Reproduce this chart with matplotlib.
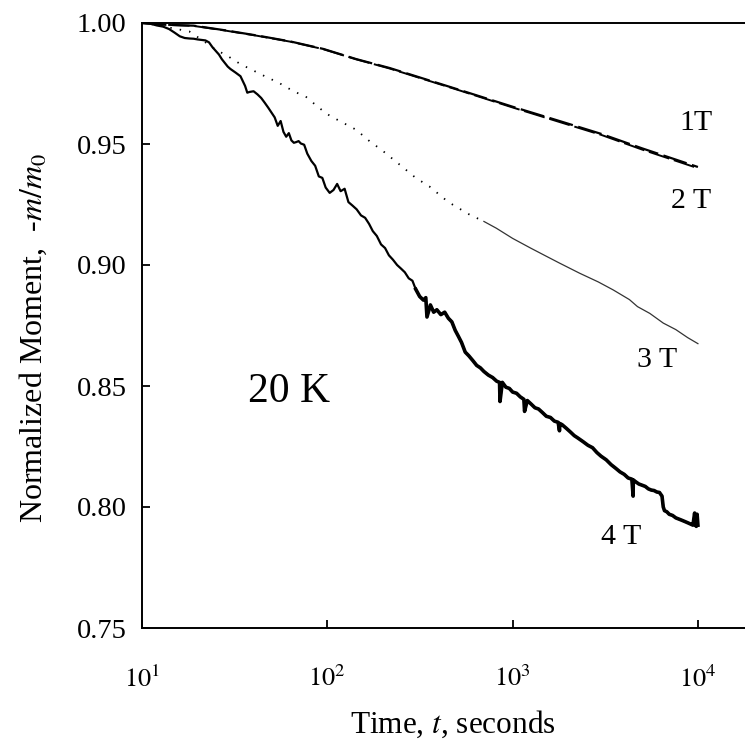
import numpy as np
import matplotlib.pyplot as plt

plt.rcParams['font.family'] = ['Liberation Serif', 'DejaVu Serif']
plt.rcParams['mathtext.fontset'] = 'stix'

# 1 T and 2 T (almost on top of each other)
t1 = [10, 13, 19, 28, 42, 63, 95, 143, 217, 500, 1000, 1790, 3000, 5000, 10000]
m1 = [1.000, 0.9993, 0.9989, 0.997, 0.9948, 0.9924, 0.9893, 0.9851, 0.9814,
      0.9727, 0.9654, 0.9595, 0.9542, 0.9482, 0.9405]
m2 = [1.000, 0.9993, 0.9988, 0.9969, 0.9947, 0.9923, 0.9892, 0.9850, 0.9812,
      0.9725, 0.9651, 0.9591, 0.9538, 0.9477, 0.9400]

# 3 T
t3 = [10, 12, 14.7, 18, 22, 25, 29.2, 34, 39.8, 46, 55, 65, 77, 90, 103, 120,
      143, 170, 196, 250, 300, 355, 450, 580, 700, 817, 1000, 1250, 1530, 1790,
      2300, 2900, 3490, 4270, 4720, 5500, 6500, 7600, 8800, 10000]
m3 = [1.000, 0.9992, 0.9978, 0.9965, 0.992, 0.989, 0.9862, 0.983, 0.9804, 0.978,
      0.9752, 0.972, 0.9694, 0.965, 0.9617, 0.959, 0.9559, 0.951, 0.9476, 0.941,
      0.936, 0.9325, 0.926, 0.921, 0.918, 0.9152, 0.911, 0.907, 0.9035, 0.9008,
      0.8966, 0.893, 0.8897, 0.8857, 0.8828, 0.880, 0.876, 0.8733, 0.870, 0.8675]

# 4 T (noisy)
t4 = [10, 11, 12, 13, 14, 15, 16, 17, 18, 19, 20, 21, 22, 23, 24, 25, 26, 27, 28,
      29, 30, 32, 34, 36, 37, 38, 40, 42, 44, 46, 48, 50, 52, 54, 56, 58, 60, 62,
      64, 66, 68, 70, 72, 75, 78, 82, 86, 90, 94, 98, 103, 108, 113, 118, 124, 130,
      137, 144, 152, 160, 168, 176, 185, 195, 205, 215, 226, 238, 250, 262, 275,
      288, 300, 315, 330, 340, 345, 360, 375, 390, 410, 430, 450, 470, 490, 510,
      530, 555, 580, 610, 640, 670, 700, 740, 780, 820, 850, 855, 880, 920, 960,
      1000, 1050, 1100, 1150, 1160, 1200, 1260, 1320, 1380, 1450, 1520, 1600, 1680,
      1760, 1790, 1800, 1850, 1950, 2050, 2150, 2250, 2400, 2550, 2700, 2850, 3000,
      3200, 3400, 3600, 3800, 4000, 4200, 4400, 4470, 4480, 4600, 4800, 5000, 5200,
      5400, 5600, 5800, 6000, 6200, 6400, 6500, 6600, 6800, 7000, 7300, 7600, 7900,
      8200, 8500, 8800, 9100, 9400, 9600, 9700, 9800, 9900, 10000]
m4 = [1.000, 0.9998, 0.999, 0.9985, 0.9975, 0.996, 0.9945, 0.9938, 0.9936, 0.9935,
      0.9932, 0.993, 0.9928, 0.992, 0.990, 0.9885, 0.987, 0.985, 0.9835, 0.982,
      0.981, 0.9795, 0.978, 0.974, 0.9712, 0.9715, 0.9718, 0.9705, 0.969, 0.967,
      0.965, 0.963, 0.961, 0.9575, 0.9595, 0.955, 0.953, 0.9545, 0.9515, 0.9505,
      0.9508, 0.9512, 0.9502, 0.9497, 0.946, 0.943, 0.941, 0.9366, 0.936, 0.932,
      0.9298, 0.931, 0.9335, 0.9305, 0.9315, 0.926, 0.9245, 0.923, 0.9205, 0.9195,
      0.917, 0.914, 0.912, 0.9085, 0.907, 0.904, 0.9022, 0.900, 0.8985, 0.897,
      0.8945, 0.8935, 0.890, 0.887, 0.8855, 0.8865, 0.8785, 0.8835, 0.8805, 0.8815,
      0.8795, 0.8805, 0.878, 0.8765, 0.873, 0.8705, 0.868, 0.864, 0.8625, 0.8605,
      0.8585, 0.8575, 0.856, 0.8545, 0.8535, 0.852, 0.8515, 0.8436, 0.8515, 0.8495,
      0.849, 0.8475, 0.847, 0.8455, 0.8445, 0.8395, 0.844, 0.8425, 0.841, 0.8405,
      0.839, 0.8375, 0.837, 0.8355, 0.835, 0.8315, 0.8345, 0.834, 0.8325, 0.831,
      0.8295, 0.8285, 0.827, 0.8255, 0.8245, 0.8225, 0.821, 0.8195, 0.8175, 0.816,
      0.8145, 0.8135, 0.812, 0.8115, 0.8045, 0.8112, 0.8105, 0.8095, 0.809, 0.8085,
      0.8075, 0.807, 0.8068, 0.8062, 0.806, 0.8045, 0.800, 0.7985, 0.798, 0.797,
      0.7965, 0.7955, 0.795, 0.7945, 0.794, 0.7935, 0.793, 0.7925, 0.7975, 0.7925,
      0.792, 0.797, 0.7925]

fig = plt.figure(figsize=(7.45, 7.48), dpi=100)
ax = fig.add_axes([142/745, 1-628/748, (745-142)/745, (628-23)/748])

ax.plot(t1, m1, color='black', lw=1.6, dashes=(11, 2.5))
ax.plot(t1, m2, color='black', lw=1.4, dashes=(11, 2.5))

t3a = np.array(t3)
m3a = np.array(m3)
early = t3a <= 800
ax.plot(t3a[early], m3a[early], color='black', lw=1.3, ls=(0, (0.8, 4.5)))
ax.plot(t3a[t3a >= 700], m3a[t3a >= 700], color='#333333', lw=0.9)

# 4 T gets thicker (noisier) at long times
t4a = np.array(t4)
m4a = np.array(m4)
ax.plot(t4a, m4a, color='black', lw=1.6)
late = t4a >= 300
ax.plot(t4a[late], m4a[late], color='black', lw=2.6)

ax.set_xscale('log')
ax.set_xlim(10, 17950)
ax.set_ylim(0.75, 1.0)
ax.set_xticks([10, 100, 1000, 10000])
ax.set_xticklabels([r'$10^{1}$', r'$10^{2}$', r'$10^{3}$', r'$10^{4}$'])
ax.minorticks_off()
ax.set_yticks([0.75, 0.80, 0.85, 0.90, 0.95, 1.00])
ax.set_yticklabels(['0.75', '0.80', '0.85', '0.90', '0.95', '1.00'])
ax.tick_params(direction='in', length=6, width=1.3)
ax.tick_params(axis='x', pad=27, labelsize=19)
ax.tick_params(axis='y', pad=11, labelsize=20.5)
ax.spines['right'].set_visible(False)
for s in ['left', 'bottom', 'top']:
    ax.spines[s].set_linewidth(1.4)

ax.set_xlabel(r'Time, $t$, seconds', fontsize=22.5)
ax.xaxis.set_label_coords(0.515, -0.133)
ax.set_ylabel(r'Normalized Moment,  -$m/m_0$', fontsize=23)
ax.yaxis.set_label_coords(-0.155, 0.48)

ax.text(9800, 0.9585, '1T', fontsize=21.5, ha='center', va='center')
ax.text(9200, 0.9265, '2 T', fontsize=21.5, ha='center', va='center')
ax.text(6050, 0.8607, '3 T', fontsize=21.5, ha='center', va='center')
ax.text(3870, 0.7877, '4 T', fontsize=21.5, ha='center', va='center')
ax.text(62, 0.8475, '20 K', fontsize=30, ha='center', va='center')

fig.savefig('out.png', dpi=100)
